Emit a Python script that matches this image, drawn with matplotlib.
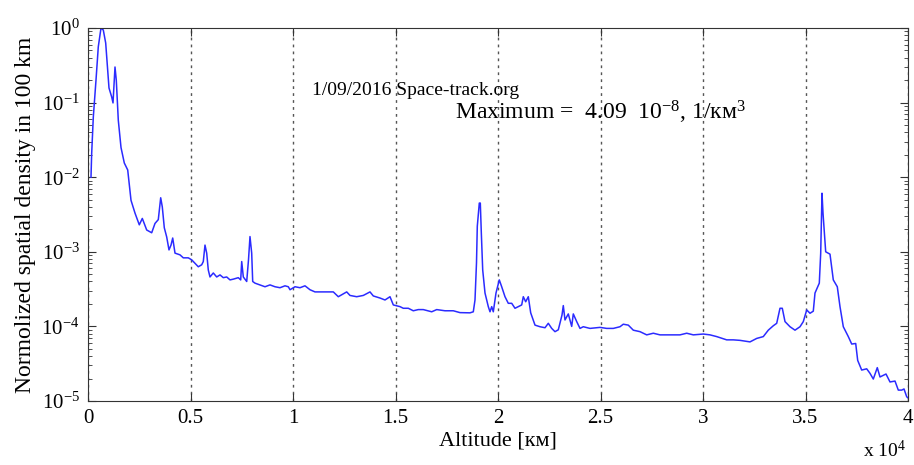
import matplotlib
matplotlib.use('Agg')
import matplotlib.pyplot as plt
from matplotlib.ticker import LogLocator, NullFormatter

plt.rcParams['font.family'] = ['Liberation Serif', 'DejaVu Serif']
plt.rcParams['mathtext.fontset'] = 'custom'
plt.rcParams['mathtext.rm'] = 'Liberation Serif'
plt.rcParams['mathtext.it'] = 'Liberation Serif:italic'

# altitude in km, normalized spatial density
altitude = [146, 180, 259, 390, 502, 634, 746, 863, 961, 1024, 1156, 1220, 1317, 1380,
            1478, 1610, 1771, 1937, 2098, 2293, 2502, 2649, 2863, 3107, 3268, 3429, 3546,
            3624, 3722, 3839, 3951, 4049, 4132, 4244, 4488, 4649, 4893, 5059, 5380, 5546,
            5624, 5707, 5790, 5868, 5951, 6112, 6278, 6439, 6600, 6766, 6927, 7088, 7332,
            7449, 7498, 7576, 7742, 7829, 7902, 7985, 8034, 8146, 8390, 8634, 8878, 9122,
            9366, 9610, 9771, 9854, 10098, 10342, 10585, 10829, 11073, 11478, 11966, 12210,
            12620, 12780, 13107, 13429, 13756, 13917, 14244, 14488, 14732, 14893, 15220,
            15380, 15624, 15868, 16112, 16356, 16766, 17010, 17415, 17820, 18146, 18634,
            18795, 18878, 18951, 18990, 19088, 19137, 19186, 19254, 19366, 19527, 19610,
            19693, 19771, 19902, 20063, 20180, 20341, 20502, 20668, 20829, 20990, 21156,
            21234, 21351, 21478, 21595, 21805, 22049, 22293, 22454, 22620, 22780, 22941,
            23122, 23185, 23268, 23429, 23595, 23673, 23839, 24000, 24161, 24488, 24975,
            25302, 25624, 25951, 26112, 26356, 26600, 26927, 27254, 27576, 27902, 28390,
            28878, 29205, 29527, 30015, 30342, 30668, 31156, 31478, 31805, 32293, 32620,
            32941, 33185, 33429, 33595, 33756, 33868, 34000, 34244, 34488, 34732, 34893,
            35059, 35220, 35380, 35463, 35673, 35741, 35805, 35854, 35985, 36195, 36356,
            36551, 36683, 36844, 37088, 37254, 37449, 37546, 37741, 37985, 38146, 38307,
            38502, 38634, 38927, 39122, 39366, 39527, 39693, 39805, 39937, 40000]
density = [1.0e-2, 2.1e-2, 6.4e-2, 0.20, 0.56, 1.0, 0.94, 0.63, 0.27, 0.157, 0.119, 0.099,
           0.30, 0.20, 0.058, 0.025, 0.0155, 0.0125, 4.9e-3, 3.3e-3, 2.3e-3, 2.8e-3, 1.96e-3,
           1.8e-3, 2.4e-3, 2.7e-3, 5.3e-3, 4.0e-3, 2.1e-3, 1.58e-3, 1.06e-3, 1.23e-3, 1.53e-3,
           9.6e-4, 9.1e-4, 8.3e-4, 8.3e-4, 7.8e-4, 6.3e-4, 6.7e-4, 7.4e-4, 1.23e-3, 9.6e-4,
           5.7e-4, 4.6e-4, 5.2e-4, 4.6e-4, 4.9e-4, 4.5e-4, 4.6e-4, 4.2e-4, 4.3e-4, 4.5e-4,
           4.2e-4, 7.4e-4, 4.6e-4, 4.0e-4, 7.8e-4, 1.6e-3, 9.6e-4, 4.0e-4, 3.8e-4, 3.6e-4,
           3.4e-4, 3.6e-4, 3.4e-4, 3.3e-4, 3.5e-4, 3.4e-4, 3.1e-4, 3.4e-4, 3.3e-4, 3.5e-4,
           3.1e-4, 2.9e-4, 2.9e-4, 2.9e-4, 2.5e-4, 2.9e-4, 2.6e-4, 2.5e-4, 2.6e-4, 2.9e-4,
           2.56e-4, 2.4e-4, 2.26e-4, 2.5e-4, 1.94e-4, 1.84e-4, 1.75e-4, 1.75e-4, 1.62e-4,
           1.68e-4, 1.68e-4, 1.57e-4, 1.68e-4, 1.62e-4, 1.62e-4, 1.53e-4, 1.52e-4, 1.57e-4,
           2.26e-4, 7.1e-4, 2.2e-3, 4.5e-3, 4.5e-3, 1.8e-3, 5.7e-4, 2.8e-4, 1.84e-4, 1.57e-4,
           1.84e-4, 1.57e-4, 2.8e-4, 4.2e-4, 3.4e-4, 2.5e-4, 2.04e-4, 2.04e-4, 1.75e-4,
           1.84e-4, 1.94e-4, 2.5e-4, 2.14e-4, 2.5e-4, 1.52e-4, 1.04e-4, 9.9e-5, 9.6e-5,
           1.1e-4, 9.4e-5, 8.5e-5, 9.0e-5, 1.42e-4, 1.9e-4, 1.22e-4, 1.47e-4, 1.0e-4,
           1.47e-4, 1.16e-4, 9.4e-5, 9.9e-5, 9.4e-5, 9.7e-5, 9.4e-5, 9.4e-5, 9.9e-5,
           1.07e-4, 1.04e-4, 8.9e-5, 8.5e-5, 7.7e-5, 8.1e-5, 7.7e-5, 7.7e-5, 7.7e-5, 8.1e-5,
           7.7e-5, 7.9e-5, 7.7e-5, 7.3e-5, 6.6e-5, 6.6e-5, 6.5e-5, 6.2e-5, 6.9e-5, 7.3e-5,
           8.9e-5, 1.02e-4, 1.1e-4, 1.75e-4, 1.75e-4, 1.16e-4, 9.9e-5, 8.9e-5, 9.9e-5,
           1.16e-4, 1.66e-4, 1.5e-4, 1.6e-4, 2.8e-4, 3.8e-4, 9.5e-4, 6.1e-3, 3.3e-3, 1.0e-3,
           9.3e-4, 4.2e-4, 3.4e-4, 1.84e-4, 9.9e-5, 7.3e-5, 5.8e-5, 5.9e-5, 3.5e-5, 2.6e-5,
           2.7e-5, 2.35e-5, 1.97e-5, 2.8e-5, 2.1e-5, 2.3e-5, 1.8e-5, 1.85e-5, 1.4e-5, 1.4e-5,
           1.45e-5, 1.14e-5, 1.1e-5]

x_ticks = [0, 5000, 10000, 15000, 20000, 25000, 30000, 35000, 40000]
x_tick_labels = ['0', '0.5', '1', '1.5', '2', '2.5', '3', '3.5', '4']
y_ticks = [1e-5, 1e-4, 1e-3, 1e-2, 1e-1, 1]
y_tick_labels = [r'$10^{-5}$', r'$10^{-4}$', r'$10^{-3}$', r'$10^{-2}$', r'$10^{-1}$', r'$10^{0}$']

fig = plt.figure(figsize=(9.14, 4.65), dpi=100)
ax = fig.add_axes([88 / 914, 1 - 401 / 465, 820 / 914, 373 / 465])

ax.semilogy(altitude, density, color='#2b2bff', lw=1.1)
ax.set_xlim(0, 40000)
ax.set_ylim(1e-5, 1)

ax.set_xticks(x_ticks)
ax.set_xticklabels(x_tick_labels, fontsize=15)
ax.set_yticks(y_ticks)
ax.set_yticklabels(y_tick_labels, fontsize=15)
ax.yaxis.set_minor_locator(LogLocator(base=10, subs=range(2, 10)))
ax.yaxis.set_minor_formatter(NullFormatter())
ax.tick_params(which='both', direction='in', top=True, right=True, color='#333333')
ax.tick_params(which='major', length=6, pad=6)
ax.tick_params(which='minor', length=3)
for s in ax.spines.values():
    s.set_color('#333333')

ax.grid(axis='x', linestyle=(0, (2, 3)), color='#555555', lw=1)

ax.set_xlabel('Altitude [км]', fontsize=16, labelpad=2)
ax.set_ylabel('Normolized spatial density in 100 km', fontsize=17, labelpad=4)

fig.text(312 / 914, 1 - 95 / 465, '1/09/2016 Space-track.org', fontsize=14, va='baseline')
fig.text(455 / 914, 1 - 120 / 465, 'Maximum =  4.09  10$^{-8}$, 1/км$^{3}$',
         fontsize=17, va='baseline')
fig.text(863 / 914, 1 - 457 / 465, 'x 10$^{4}$', fontsize=14, va='baseline')

fig.savefig('out.png', dpi=100)
